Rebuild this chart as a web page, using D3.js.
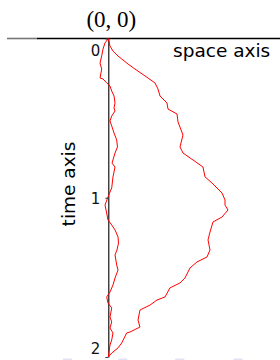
<!DOCTYPE html>
<html>
<head>
<meta charset="utf-8">
<script src="https://cdn.jsdelivr.net/npm/d3@7"></script>
<style>
html,body{margin:0;padding:0;background:#fff;}
svg{display:block;}
</style>
</head>
<body>
<svg id="chart" width="280" height="360"></svg>
<script>
// ---- data ----
const timeTicks = [0, 1, 2];
const tickLabels = ["0", "1", "2"];
const originLabel = "(0, 0)";
const spaceAxisLabel = "space axis";
const timeAxisLabel = "time axis";

// narrow path (time, space)
const pathATime = [0,0.028,0.066,0.11,0.154,0.192,0.248,0.254,0.279,0.298,0.33,0.361,0.405,0.436,0.455,0.487,0.518,0.549,0.593,0.637,0.681,0.719,0.782,0.807,0.869,0.938,0.995,1.046,1.096,1.14,1.171,1.202,1.246,1.284,1.328,1.359,1.422,1.454,1.504,1.548,1.592,1.623,1.661,1.692,1.749,1.78,1.818,1.849,1.893,1.925,2];
const pathASpace = [0,-0.055,-0.088,-0.11,-0.138,-0.11,-0.138,-0.088,-0.027,0.028,0.057,0.095,0.112,0.095,0.112,0.057,0.028,0.057,0.095,0.14,0.153,0.112,0.062,0.112,0.078,0.057,-0.005,-0.055,-0.027,-0.005,0.057,0.112,0.162,0.17,0.145,0.112,0.14,0.162,0.112,0.078,0.028,-0.027,-0.005,0.057,0.028,0.057,0.028,0.078,0.057,0.028,0];

// wide path (time, space)
const pathBTime = [0,0.047,0.079,0.11,0.135,0.16,0.192,0.235,0.279,0.317,0.361,0.405,0.443,0.474,0.524,0.606,0.681,0.719,0.763,0.807,0.869,0.907,0.97,1.014,1.046,1.077,1.121,1.152,1.215,1.265,1.328,1.372,1.403,1.441,1.504,1.535,1.566,1.623,1.642,1.674,1.705,1.768,1.812,1.843,1.849,1.912,1.943,1.975,2];
const pathBSpace = [0,0.028,0.078,0.162,0.245,0.328,0.445,0.612,0.778,0.828,0.862,0.978,0.995,1.145,1.162,1.245,1.195,1.245,1.412,1.578,1.612,1.728,1.895,1.945,1.945,1.995,1.895,1.745,1.695,1.662,1.695,1.645,1.478,1.362,1.278,1.195,1.028,0.945,0.812,0.695,0.528,0.495,0.528,0.362,0.307,0.223,0.162,0.057,0];

// faint marks along the bottom edge (space units)
const bottomMarks = [-0.67, 0.25, 1.2, 2.17];

// ---- drawing ----
const svg = d3.select("#chart");
const y = d3.scaleLinear().domain([0, 2]).range([38.5, 357]);
const x = d3.scaleLinear().domain([0, 1]).range([108.3, 168.3]);

// faint bottom marks
svg.append("g").selectAll("rect").data(bottomMarks).join("rect")
  .attr("x", d => x(d) - 5).attr("y", 358.5).attr("width", 9).attr("height", 1.5)
  .attr("fill", "#e2e2f2");

// horizontal (space) axis line
svg.append("line").attr("x1", 7).attr("x2", 37).attr("y1", y(0)).attr("y2", y(0))
  .attr("stroke", "#777").attr("stroke-width", 1.6);
svg.append("line").attr("x1", 37).attr("x2", 280).attr("y1", y(0)).attr("y2", y(0))
  .attr("stroke", "#000").attr("stroke-width", 1.6);

// time axis
const axis = d3.axisLeft(y).tickValues(timeTicks).tickSize(3).tickSizeOuter(0).tickPadding(5)
  .tickFormat((d, i) => tickLabels[i]);
const gAxis = svg.append("g").attr("transform", `translate(${x(0)},0)`).call(axis);
gAxis.select(".domain").attr("stroke", "#000").attr("stroke-width", 1.1);
gAxis.selectAll(".tick line").attr("stroke", "#444");
gAxis.selectAll(".tick text")
  .attr("font-family", "DejaVu Sans").attr("font-size", 15).attr("fill", "#111")
  .attr("dy", (d, i) => i === 0 ? "1.1em" : (i === 2 ? "-0.25em" : "0.38em"));

// red paths
const line = d3.line().x(d => x(d[1])).y(d => y(d[0]));
const dataA = pathATime.map((t, i) => [t, pathASpace[i]]);
const dataB = pathBTime.map((t, i) => [t, pathBSpace[i]]);
[dataA, dataB].forEach(dd => {
  svg.append("path").datum(dd).attr("d", line)
    .attr("fill", "none").attr("stroke", "#ff0000").attr("stroke-width", 1)
    .attr("stroke-linejoin", "round");
});

// labels
svg.append("text").attr("x", x(0) + 3).attr("y", 27).attr("text-anchor", "middle")
  .attr("font-family", "Liberation Serif").attr("font-size", 23).attr("fill", "#000")
  .text(originLabel);
svg.append("text").attr("x", 173).attr("y", 57)
  .attr("font-family", "DejaVu Sans").attr("font-size", 18.5).attr("fill", "#000")
  .text(spaceAxisLabel);
svg.append("text").attr("transform", "translate(75,184) rotate(-90)").attr("text-anchor", "middle")
  .attr("font-family", "DejaVu Sans").attr("font-size", 18.5).attr("fill", "#000")
  .text(timeAxisLabel);
</script>
</body>
</html>
